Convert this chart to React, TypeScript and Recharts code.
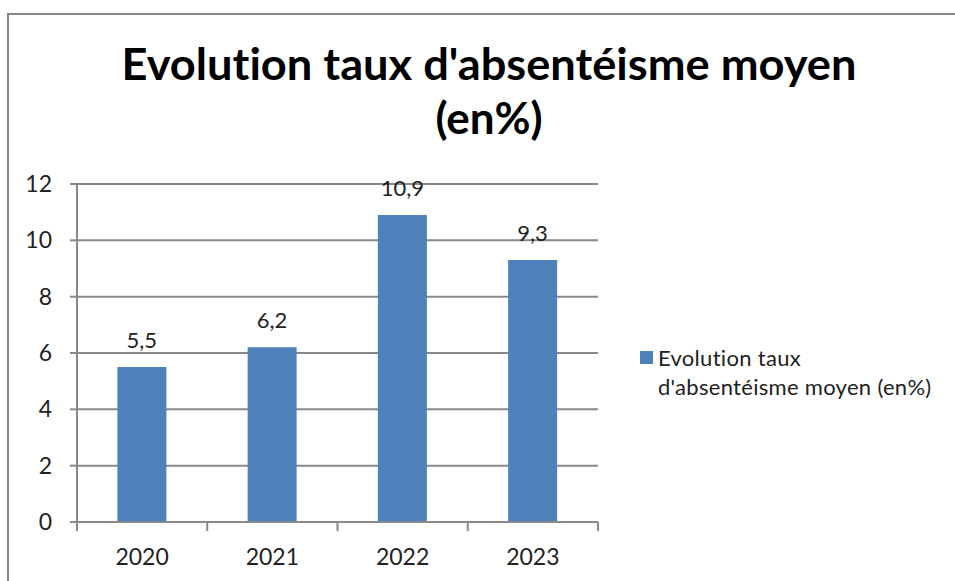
import { BarChart, Bar, XAxis, YAxis, CartesianGrid, Legend, LabelList } from "recharts";

const years = ["2020", "2021", "2022", "2023"];
const rates = [5.5, 6.2, 10.9, 9.3];
const yTicks = [0, 2, 4, 6, 8, 10, 12];
const seriesName = "Evolution taux d'absentéisme moyen (en%)";
const titleLines = ["Evolution taux d'absentéisme moyen", "(en%)"];

const data = years.map((year, i) => ({ year, value: rates[i] }));

const FONT = "Lato, 'Open Sans', sans-serif";
const GRID = "#898989";
const BAR = "#4F81BD";
const NO_LIGA = { fontVariantLigatures: "none", fontFeatureSettings: '"liga" 0, "clig" 0' } as const;

function YearTick(props: any) {
  const { x, y, payload, index, visibleTicksCount } = props;
  const off = payload && payload.offset ? payload.offset : 65;
  const axisY = y - 8;
  const last = index === visibleTicksCount - 1;
  return (
    <g>
      <line x1={x - off} x2={x - off} y1={axisY} y2={axisY + 9} stroke={GRID} strokeWidth={2} />
      {last && (
        <line x1={x + off} x2={x + off} y1={axisY} y2={axisY + 9} stroke={GRID} strokeWidth={2} />
      )}
      <text x={x} y={axisY + 43} textAnchor="middle" fontSize={23} fill="#222" fontFamily={FONT}>
        {payload.value}
      </text>
    </g>
  );
}

function LegendBox() {
  const cut = seriesName.indexOf("taux") + 4;
  return (
    <div
      style={{
        position: "relative",
        fontFamily: FONT,
        fontSize: 22,
        letterSpacing: 0.3,
        color: "#222",
        lineHeight: "29px",
        ...NO_LIGA,
      }}
    >
      <span
        style={{ position: "absolute", left: 0, top: 8, width: 13, height: 13, background: BAR }}
      />
      <div style={{ paddingLeft: 18, whiteSpace: "nowrap" }}>
        <div>{seriesName.slice(0, cut)}</div>
        <div>{seriesName.slice(cut + 1)}</div>
      </div>
    </div>
  );
}

export default function App() {
  return (
    <div
      style={{
        position: "fixed",
        left: 0,
        top: 0,
        width: 955,
        height: 581,
        background: "#fff",
        overflow: "hidden",
      }}
    >
      <div
        style={{
          position: "absolute",
          left: 7,
          top: 13,
          width: 1200,
          height: 1200,
          border: "2px solid #878787",
        }}
      />
      <svg width={955} height={150} style={{ position: "absolute", left: 0, top: 0, ...NO_LIGA }}>
        <text
          x={489}
          y={80}
          textAnchor="middle"
          fontFamily={FONT}
          fontWeight="bold"
          fontSize={44}
          fill="#000"
          textLength={735}
          lengthAdjust="spacingAndGlyphs"
          style={NO_LIGA}
        >
          {titleLines[0]}
        </text>
        <text x={489} y={134} textAnchor="middle" fontFamily={FONT} fontWeight="bold" fontSize={44} fill="#000">
          {titleLines[1]}
        </text>
      </svg>
      <div style={{ position: "absolute", left: 0, top: 0 }}>
        <BarChart
          width={955}
          height={581}
          data={data}
          margin={{ top: 184, right: 47, bottom: 0, left: 0 }}
          barCategoryGap="31%"
        >
          <CartesianGrid vertical={false} stroke={GRID} strokeWidth={2} />
          <XAxis
            dataKey="year"
            height={59}
            axisLine={{ stroke: GRID, strokeWidth: 2 }}
            tickLine={false}
            tick={<YearTick />}
            interval={0}
          />
          <YAxis
            width={77}
            domain={[0, 12]}
            ticks={yTicks}
            interval={0}
            axisLine={{ stroke: GRID, strokeWidth: 2 }}
            tickLine={{ stroke: GRID, strokeWidth: 2 }}
            tickSize={7}
            tickMargin={18}
            tick={{ fontSize: 23, fill: "#222", fontFamily: FONT }}
          />
          <Legend
            layout="vertical"
            align="right"
            verticalAlign="middle"
            width={310}
            content={<LegendBox />}
            wrapperStyle={{ position: "absolute", left: 640, top: 343, width: 310 }}
          />
          <Bar dataKey="value" name={seriesName} fill={BAR} isAnimationActive={false}>
            <LabelList
              dataKey="value"
              position="top"
              offset={19}
              fontSize={22}
              fill="#222"
              fontFamily={FONT}
              formatter={(v: any) => String(v).replace(".", ",")}
            />
          </Bar>
        </BarChart>
      </div>
    </div>
  );
}
